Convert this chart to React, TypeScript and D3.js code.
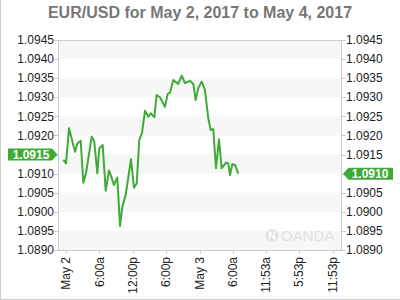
import React from "react";
import * as d3 from "d3";

const TITLE = "EUR/USD for May 2, 2017 to May 4, 2017";
// hours since May 2, 2017 00:00
const times = [-0.48, 0, 0.54, 1.62, 2.03, 2.64, 3.11, 3.59, 4.62, 5.08, 5.62, 5.98, 6.59, 7.13, 7.72, 8.03, 8.62, 9.21, 9.7, 10.11, 10.72, 11.67, 12.21, 12.7, 13.16, 13.65, 14.19, 14.78, 15.21, 15.86, 16.29, 16.88, 17.78, 18.27, 18.68, 19.27, 20.17, 20.78, 21.37, 22.27, 22.86, 23.29, 23.76, 24.37, 24.96, 25.56, 25.99, 26.45, 26.94, 27.48, 27.96, 28.74, 29.15, 29.46, 29.87, 30.35, 30.95];
const values = [1.09136, 1.09127, 1.09219, 1.09157, 1.09179, 1.09186, 1.09076, 1.09101, 1.09197, 1.09184, 1.09101, 1.09166, 1.09175, 1.09055, 1.09108, 1.09096, 1.0907, 1.0909, 1.08963, 1.09013, 1.09044, 1.09138, 1.09063, 1.09075, 1.09188, 1.09206, 1.09265, 1.09249, 1.09258, 1.09248, 1.09306, 1.093, 1.09275, 1.09309, 1.09312, 1.09345, 1.09335, 1.09357, 1.09337, 1.09343, 1.09335, 1.09293, 1.09324, 1.09341, 1.09319, 1.09245, 1.09214, 1.09217, 1.09114, 1.0919, 1.09114, 1.09129, 1.09127, 1.09096, 1.09125, 1.09123, 1.091];
const xTickHours = [0, 6, 12, 18, 24, 30, 35.88, 41.88, 47.88];
const xTickLabels = ["May 2", "6:00a", "12:00p", "6:00p", "May 3", "6:00a", "11:53a", "5:53p", "11:53p"];
const yTicks = [1.089, 1.0895, 1.09, 1.0905, 1.091, 1.0915, 1.092, 1.0925, 1.093, 1.0935, 1.094, 1.0945];
const openValue = 1.0915;
const lastValue = 1.091;

const GREEN = "#3dab35";
const FONT = "'Liberation Sans', Arial, sans-serif";

export default function App() {
  const W = 400, H = 300;
  const L = 58, R = 342, T = 40, B = 250;
  const x = d3.scaleLinear().domain([-1.44, 49.58]).range([L, R]);
  const y = d3.scaleLinear().domain([1.089, 1.0945]).range([B, T]);
  const pts = times.map((t, i) => [t, values[i]] as [number, number]);
  const line = d3.line<[number, number]>().x(d => x(d[0])).y(d => y(d[1]));
  const fmt = d3.format(".4f");

  const bands = [] as JSX.Element[];
  for (let i = yTicks.length - 1; i > 0; i -= 1) {
    const k = yTicks.length - 1 - i;
    if (k % 2 === 0) {
      const y0 = y(yTicks[i]);
      const y1 = y(yTicks[i - 1]);
      bands.push(<rect key={i} x={L} y={y0} width={R - L} height={y1 - y0} fill="#f7f7f7" />);
    }
  }

  const oy = y(openValue);
  const ly = y(lastValue);
  const same = (a: number, b: number) => Math.abs(a - b) < 1e-7;

  return (
    <svg width={W} height={H} style={{ position: "absolute", left: 0, top: 0 }} fontFamily={FONT}>
      <rect x={0} y={0} width={W} height={H} fill="#fff" />
      <line x1={0.5} y1={0} x2={0.5} y2={H} stroke="#ccc" />
      <line x1={0} y1={H - 0.5} x2={W} y2={H - 0.5} stroke="#ccc" />
      <text x={W / 2} y={17.5} textAnchor="middle" fontSize={16} fontWeight="bold" fill="#777">{TITLE}</text>
      {bands}
      {/* watermark */}
      <g>
        <circle cx={272} cy={235.5} r={6.5} fill="#e2e2e2" />
        <path d="M269.5,231.5 L269.5,239.5 M274.5,231.5 L274.5,239.5 M269.5,231.5 L274.5,239.5" stroke="#fff" strokeWidth={1.5} fill="none" />
        <text x={281} y={241} fontSize={15} fill="#e2e2e2">OANDA</text>
      </g>
      <rect x={L + 0.5} y={T + 0.5} width={R - L - 1} height={B - T} fill="none" stroke="#ccc" />
      {yTicks.map(v => (
        <g key={v}>
          <line x1={L - 4} x2={L} y1={Math.round(y(v)) + 0.5} y2={Math.round(y(v)) + 0.5} stroke="#ccc" />
          <line x1={R} x2={R + 4} y1={Math.round(y(v)) + 0.5} y2={Math.round(y(v)) + 0.5} stroke="#ccc" />
          {!same(v, openValue) && (
            <text x={54} y={y(v)} dy="0.35em" textAnchor="end" fontSize={12} fill="#222">{fmt(v)}</text>
          )}
          {!same(v, lastValue) && (
            <text x={346} y={y(v)} dy="0.35em" textAnchor="start" fontSize={12} fill="#222">{fmt(v)}</text>
          )}
        </g>
      ))}
      {xTickHours.map((h, i) => (
        <g key={i}>
          <line x1={Math.round(x(h)) + 0.5} x2={Math.round(x(h)) + 0.5} y1={B} y2={B + 4} stroke="#ccc" />
          <text transform={`translate(${x(h)},${B + 7}) rotate(-90)`} dy="0.35em" textAnchor="end" fontSize={12} fill="#222">{xTickLabels[i]}</text>
        </g>
      ))}
      <path d={line(pts) || ""} fill="none" stroke={GREEN} strokeWidth={2} strokeLinejoin="round" />
      {/* left tag */}
      <path d={`M8,${oy - 6} L52,${oy - 6} L57.5,${oy} L52,${oy + 6} L8,${oy + 6} Z`} fill={GREEN} />
      <text x={31} y={oy} dy="0.36em" textAnchor="middle" fontSize={12} fontWeight="bold" fill="#fff">{fmt(openValue)}</text>
      {/* right tag */}
      <path d={`M343,${ly} L348.5,${ly - 6} L393,${ly - 6} L393,${ly + 6} L348.5,${ly + 6} Z`} fill={GREEN} />
      <text x={370} y={ly} dy="0.36em" textAnchor="middle" fontSize={12} fontWeight="bold" fill="#fff">{fmt(lastValue)}</text>
    </svg>
  );
}
